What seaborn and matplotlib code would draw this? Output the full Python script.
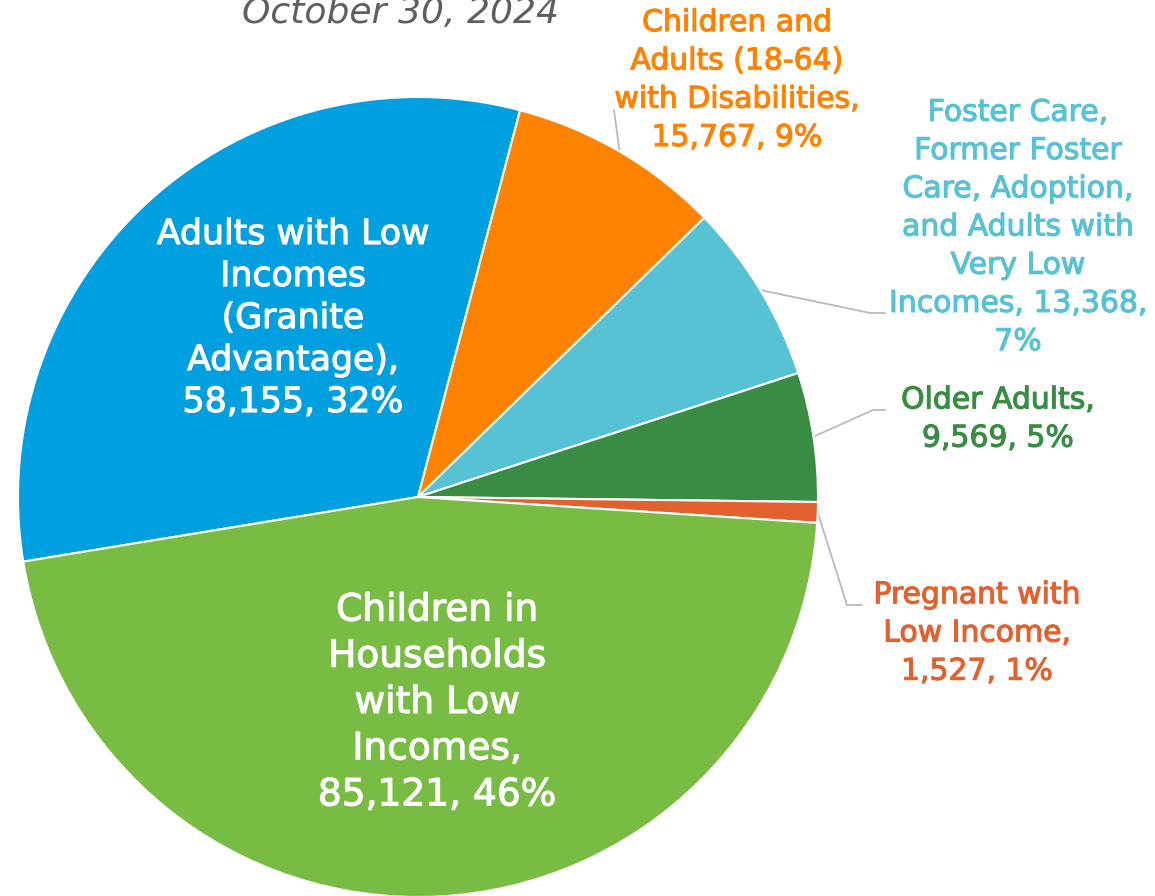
import numpy as np
import matplotlib
matplotlib.use("Agg")
import matplotlib.pyplot as plt
import matplotlib.patheffects as pe
import seaborn as sns

# Enrollment by eligibility group, October 30, 2024
groups = ["Adults with Low Incomes (Granite Advantage)",
          "Children and Adults (18-64) with Disabilities",
          "Foster Care, Former Foster Care, Adoption, and Adults with Very Low Incomes",
          "Older Adults",
          "Pregnant with Low Income",
          "Children in Households with Low Incomes"]
counts = [58155, 15767, 13368, 9569, 1527, 85121]
colors = ["#009FDF", "#FF8200", "#56C2D3", "#388C44", "#E3612F", "#78BC43"]
label_lines = [
    ["Adults with Low", "Incomes", "(Granite", "Advantage),", "58,155, 32%"],
    ["Children and", "Adults (18-64)", "with Disabilities,", "15,767, 9%"],
    ["Foster Care,", "Former Foster", "Care, Adoption,", "and Adults with", "Very Low", "Incomes, 13,368,", "7%"],
    ["Older Adults,", "9,569, 5%"],
    ["Pregnant with", "Low Income,", "1,527, 1%"],
    ["Children in", "Households", "with Low", "Incomes,", "85,121, 46%"],
]

sns.set_theme(style="white")
plt.rcParams['font.family'] = ['DejaVu Sans']

W, H = 1155, 896
fig = plt.figure(figsize=(W / 100, H / 100), dpi=100)
ax = fig.add_axes([0, 0, 1, 1])

cx, cy, r = 418, H - 497, 400
wedges, _ = ax.pie(counts, colors=colors, startangle=189.3, counterclock=False,
                   center=(cx, cy), radius=r,
                   wedgeprops=dict(edgecolor="white", linewidth=1.5))
ax.set_xlim(0, W)
ax.set_ylim(0, H)
ax.set_aspect("equal")
ax.axis("off")

def py(y):
    return H - y

# label layout: (x center, y center of block in px, font size, line spacing px, color, elbow pts)
layout = [
    (293, 318, 25, 42, "white", None),
    (737, 80, 21.5, 38.3, "#FF8200", [(614, 110)]),
    (1018, 227, 21.5, 38.2, "#56C2D3", [(870, 313), (885, 313)]),
    (998, 419, 21.5, 38.2, "#388C44", [(873, 410), (885, 410)]),
    (977, 633, 21.5, 38.2, "#E3612F", [(847, 605), (862, 605)]),
    (437, 703, 27, 46.2, "white", None),
]

for w, lines, (lx, ly, fs, sp, col, elbow) in zip(wedges, label_lines, layout):
    n = len(lines)
    for i, s in enumerate(lines):
        yy = ly + (i - (n - 1) / 2) * sp
        ax.text(lx, py(yy), s, ha="center", va="center", fontsize=fs,
                color=col,
                path_effects=[pe.withStroke(linewidth=0.8, foreground=col)])
    if elbow:
        mid = np.deg2rad((w.theta1 + w.theta2) / 2)
        x0, y0 = cx + r * np.cos(mid), cy + r * np.sin(mid)
        xs = [x0] + [p[0] for p in elbow]
        ys = [y0] + [py(p[1]) for p in elbow]
        ax.plot(xs, ys, color="#BBBBBB", lw=1.3, zorder=0.5)

ax.text(401, py(23), "October 30, 2024", ha="center", va="baseline",
        fontsize=26, color="#5E5E5E", style="italic")

fig.savefig("out.png", dpi=100)
